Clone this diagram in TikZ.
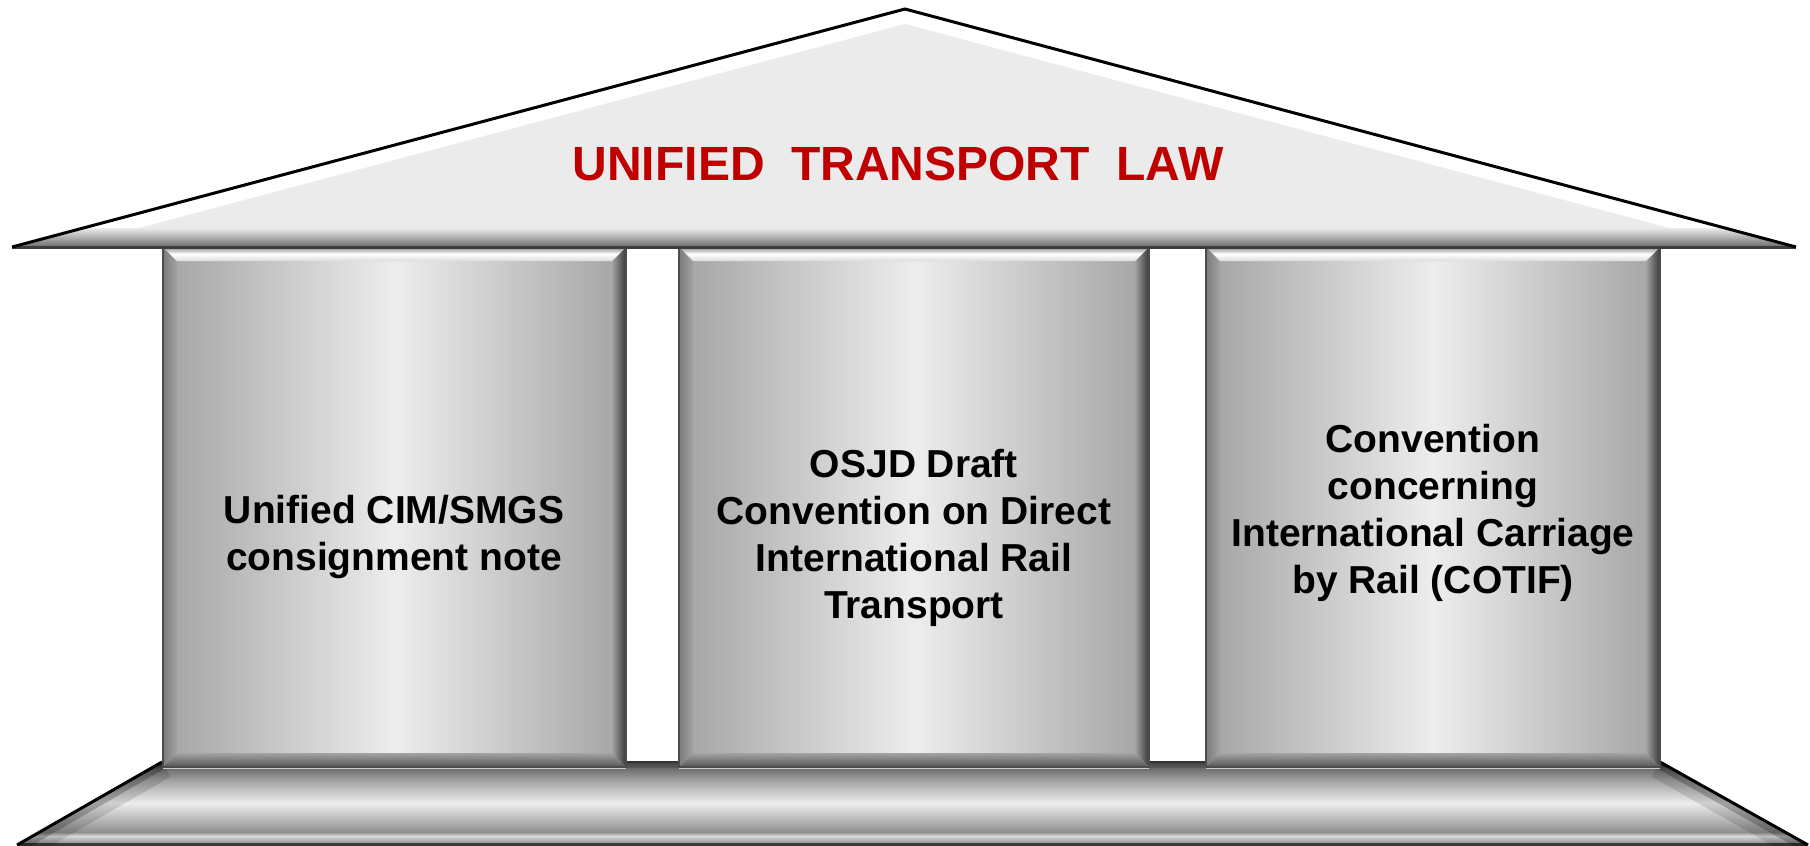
\documentclass[tikz,border=0pt]{standalone}
\usepackage{fontspec}
\setmainfont{Liberation Sans}
\definecolor{roofgray}{HTML}{EBEBEB}
\definecolor{lawred}{HTML}{C00000}
\definecolor{pside}{HTML}{A3A3A3}
\definecolor{pmid}{HTML}{EDEDED}
\tikzset{
  pillartext/.style={font=\bfseries\fontsize{39}{47}\selectfont, align=center, text=black, inner sep=0pt},
  rooftext/.style={font=\bfseries\fontsize{48}{58}\selectfont, text=lawred, inner sep=0pt},
  band/.style 2 args={top color=#1, bottom color=#2},
}
\begin{document}
\begin{tikzpicture}[x=1pt,y=-1pt]
\useasboundingbox (0,0) rectangle (1810,846);
\fill[white] (0,0) rectangle (1810,846);

% ---------- base ----------
\coordinate (btl) at (162,762);
\coordinate (btr) at (1660,762);
\coordinate (bbr) at (1808,846);
\coordinate (bbl) at (17,846);
\begin{scope}
  \clip (btl) -- (btr) -- (bbr) -- (bbl) -- cycle;
  \shade[band={black!75}{black!64}] (0,761) rectangle (1810,768);
  \shade[band={black!58}{black!37}] (0,768) rectangle (1810,780);
  \shade[band={black!37}{black!7}] (0,780) rectangle (1810,803);
  \shade[band={black!7}{black!31}] (0,803) rectangle (1810,822);
  \shade[band={black!31}{black!44}] (0,822) rectangle (1810,832);
  \shade[band={black!44}{black!15}] (0,832) rectangle (1810,836);
  \shade[band={black!15}{black!42}] (0,836) rectangle (1810,843);
  \fill[black!77] (0,843) rectangle (1810,846);
  \draw[black, opacity=0.12, line width=34] (btl) -- (bbl);
  \draw[black, opacity=0.22, line width=14] (btl) -- (bbl);
  \draw[black, opacity=0.12, line width=34] (btr) -- (bbr);
  \draw[black, opacity=0.22, line width=14] (btr) -- (bbr);
\end{scope}
\draw[black, line width=3] (btl) -- (17,845);
\draw[black, line width=3] (btr) -- (1808,845);
\draw[black!80, line width=2] (btl) -- (btr);

% ---------- pillars ----------
\foreach \a/\b/\n in {163/626/pa, 679/1149/pb, 1206/1660/pc}{
  \shade[left color=pside, right color=pside, middle color=pmid] (\a,247) rectangle (\b,767);
  % left bevel
  \shade[left color=black!52, right color=pside] (\a,247) -- (\a+14,261) -- (\a+14,753) -- (\a,767) -- cycle;
  % right bevel
  \shade[left color=pside, right color=black!78] (\b,247) -- (\b-14,261) -- (\b-14,753) -- (\b,767) -- cycle;
  % top bevel
  \shade[top color=black!45, bottom color=black!14, middle color=white] (\a,247) -- (\b,247) -- (\b-14,261) -- (\a+14,261) -- cycle;
  % bottom bevel
  \shade[top color=black!36, bottom color=black!66] (\a+14,753) -- (\b-14,753) -- (\b,767) -- (\a,767) -- cycle;
  \draw[black!20, line width=1.5] (\a,768.5) -- (\b,768.5);
  \draw[black!70, line width=1.5] (\a,247) rectangle (\b,767);
}

% ---------- roof ----------
\coordinate (rl) at (12,247);
\coordinate (ra) at (905,9);
\coordinate (rr) at (1796,247);
\fill[white] (rl) -- (ra) -- (rr) -- cycle;
\begin{scope}
  \clip (rl) -- (ra) -- (rr) -- cycle;
  \fill[roofgray] (68,247) -- (905,24) -- (1740,247) -- cycle;
  \shade[band={roofgray}{black!52}] (0,228) rectangle (1810,245);
\end{scope}
\draw[black!76, line width=3] (rl) -- (rr);
\draw[black, line width=3, line join=miter] (rl) -- (ra) -- (rr);

% ---------- texts ----------
\node[rooftext] (law) at (898,164) {UNIFIED\ \ TRANSPORT\ \ LAW};
\node[pillartext] (t1) at (394,537) {Unified CIM/SMGS\\consignment note};
\node[pillartext] (t2) at (914,538) {OSJD Draft\\Convention on Direct\\International Rail\\Transport};
\node[pillartext] (t3) at (1433,513) {Convention\\concerning\\International Carriage\\by Rail (COTIF)};
\end{tikzpicture}
\end{document}
